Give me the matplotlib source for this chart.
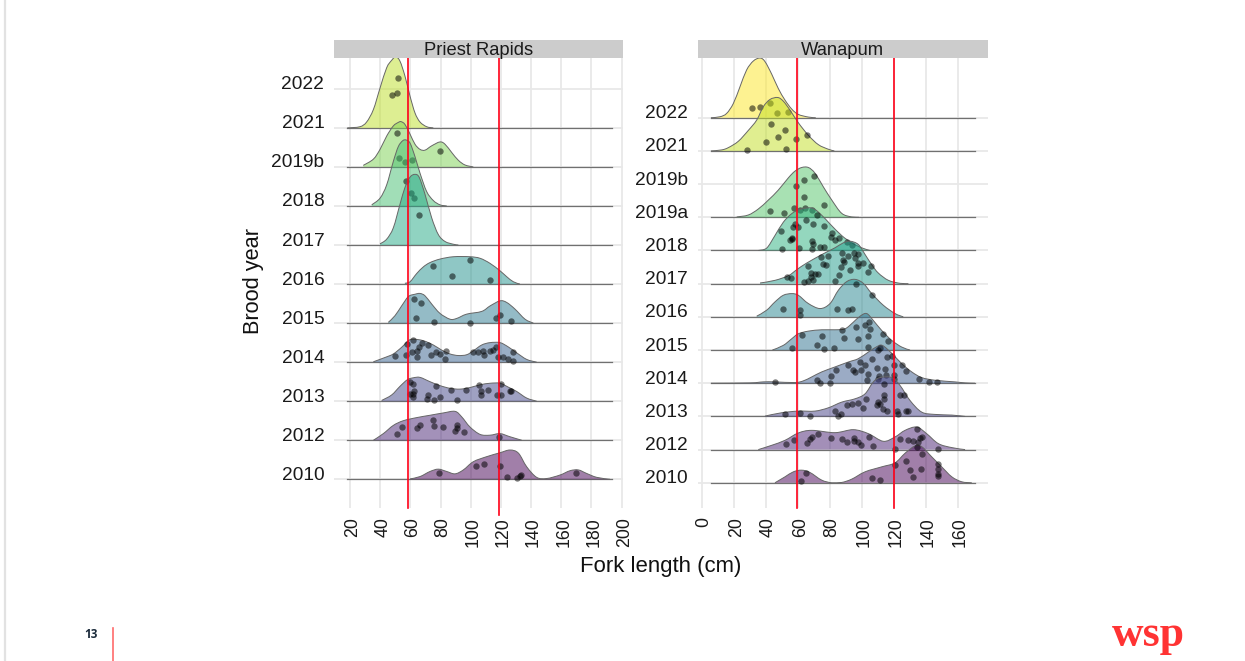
# ridgeline plots of fork length by brood year, Priest Rapids and Wanapum

import matplotlib
matplotlib.use("Agg")
import matplotlib.pyplot as plt
from matplotlib.lines import Line2D
from matplotlib.patches import PathPatch
from matplotlib.path import Path
from matplotlib.transforms import ScaledTranslation

plt.rcParams["font.family"] = ["Liberation Sans", "DejaVu Sans"]

W, H = 1245, 661

# Priest Rapids: density outline (cm, height in rows) and jittered fish
pr_labels = ["2010", "2012", "2013", "2014", "2015", "2016", "2017", "2018", "2019b", "2021", "2022"]
pr_ticks = [20, 40, 60, 80, 100, 120, 140, 160, 180, 200]
pr_range = [18.2, 193.4]

pr21_x = [18.2, 26.6, 31, 35.5, 39.9, 44.3, 47.6, 50.3, 53.1, 56.4, 59.8, 63.1, 66.4, 70.8, 75.2]
pr21_h = [0, .03, .15, .47, 1.02, 1.54, 1.73, 1.82, 1.71, 1.33, .81, .38, .15, .03, 0]
pr21_px = [51.8, 47.6, 51.4]
pr21_ph = [1.28, .83, .89]

pr19_x = [28.8, 35.5, 39.9, 44.3, 48.7, 52, 53.8, 56.4, 59.8, 63.1, 66.4, 69.7, 74.1, 79.6, 83, 87.4, 91.8, 96.2, 101.7]
pr19_h = [.04, .2, .45, .79, 1.05, 1.14, 1.16, 1.09, .84, .58, .45, .43, .54, .64, .58, .37, .17, .05, 0]
pr19_px = [50.9, 79.9, 52.5, 56.4, 60.9]
pr19_ph = [.86, .40, .22, .13, .19]

pr18_x = [34.4, 39.9, 44.3, 48.7, 52, 54.9, 57.1, 59.8, 63.1, 66.4, 70.8, 75.2, 79.6, 84.1]
pr18_h = [.03, .2, .54, 1.14, 1.52, 1.67, 1.69, 1.61, 1.26, .84, .37, .14, .03, 0]
pr18_px = [57.1, 60.4, 62.4]
pr18_ph = [.64, .32, .20]

pr17_x = [39.9, 44.3, 48.7, 53.1, 56.4, 59.8, 63.1, 65.9, 69.7, 74.1, 78.5, 83, 88.5, 91.8]
pr17_h = [.03, .15, .44, 1.04, 1.47, 1.74, 1.81, 1.73, 1.3, .7, .27, .09, .02, 0]
pr17_px = [65.5]
pr17_ph = [.76]

pr16_x = [56.4, 59.8, 64.2, 68.6, 73, 79.6, 88.5, 99.5, 106.2, 112.8, 119.4, 123.8, 128.2, 132.6]
pr16_h = [.02, .06, .27, .44, .55, .64, .7, .7, .66, .53, .34, .19, .06, 0]
pr16_px = [74.8, 99.7, 87.6, 112.6]
pr16_ph = [.47, .62, .20, .10]

pr15_x = [45.4, 49.8, 54.2, 58.7, 63.1, 66.4, 69.7, 74.1, 79.6, 86.3, 90.7, 97.3, 107.3, 112.8, 119.4, 123.8, 129.3, 136, 141.5]
pr15_h = [.02, .19, .44, .68, .74, .76, .70, .49, .25, .10, .12, .23, .30, .44, .57, .53, .36, .10, 0]
pr15_px = [62.4, 66.8, 63.7, 75.9, 99.3, 116.8, 119.6, 126.7]
pr15_ph = [.62, .51, .14, .03, 0, .12, .21, .05]

pr14_x = [35.5, 43.2, 48.7, 54.2, 58.7, 62, 68.6, 75.2, 80.7, 86.3, 91.8, 97.3, 101.7, 107.3, 112.8, 119.4, 124.9, 130.4, 137.1, 143.7]
pr14_h = [.01, .12, .21, .38, .55, .59, .55, .44, .31, .21, .17, .19, .29, .44, .50, .50, .39, .24, .07, 0]
pr14_px = [49.8, 57.3, 57.6, 61.7, 60.9, 64.6, 64.6, 65.7, 67.9, 71.9, 73.7, 77, 79.6, 82.7, 83.4, 101.7, 105, 107.9, 108.8, 112.8, 115, 117, 118.3, 121.2, 124.9, 127.8, 127.8]
pr14_ph = [.15, .18, .47, .56, .26, .12, .28, .39, .48, .45, .18, .26, .21, .09, .29, .26, .25, .29, .18, .29, .32, .38, .12, .12, .07, .25, .02]

pr13_x = [41, 47.6, 53.1, 58, 62, 66.4, 73, 79.6, 86.3, 92.9, 99.5, 106.2, 112.8, 119.4, 124.9, 130.4, 137.1, 143.7]
pr13_h = [.02, .16, .38, .55, .60, .61, .50, .40, .33, .31, .35, .42, .46, .46, .36, .25, .08, 0]
pr13_px = [59.8, 62, 59.8, 62.4, 62, 61.5, 71.9, 71.2, 75.9, 79.6, 76.8, 86.7, 90.7, 96.9, 105.7, 106.8, 106.8, 111.7, 117.6, 120.3, 119.8, 126, 126.7]
pr13_ph = [.49, .44, .19, .27, .19, .10, .17, .06, .03, .11, .40, .29, .04, .28, .41, .25, .15, .28, .15, .15, .44, .26, .26]

pr12_x = [35.5, 42.1, 48.7, 55.3, 64.2, 73, 81.9, 89.6, 94, 99.5, 106.2, 112.8, 119.4, 126, 133.8]
pr12_h = [0, .17, .38, .50, .58, .64, .70, .74, .60, .34, .15, .13, .17, .09, 0]
pr12_px = [51.4, 54.7, 64.6, 66.4, 75.2, 75.9, 81.9, 90.7, 90.7, 89.6, 95.8, 118.7]
pr12_ph = [.15, .35, .32, .38, .53, .36, .34, .38, .32, .24, .21, .08]

pr10_x = [59.8, 66.4, 73, 78.5, 84.1, 89.6, 95.1, 101.7, 110.6, 119.4, 126, 131.6, 137.1, 143.7, 150.3, 159.2, 165.8, 171.3, 176.8, 183.5, 192.3]
pr10_h = [.01, .07, .20, .26, .20, .14, .24, .45, .58, .68, .75, .67, .32, .05, .02, .11, .22, .24, .15, .05, 0]
pr10_px = [79, 103.5, 109, 119.6, 123.8, 130.9, 132.6, 133.1, 169.8]
pr10_ph = [.17, .33, .38, .33, .06, .04, .08, .11, .16]

# Wanapum
wa_labels = ["2010", "2012", "2013", "2014", "2015", "2016", "2017", "2018", "2019a", "2019b", "2021", "2022"]
wa_ticks = [0, 20, 40, 60, 80, 100, 120, 140, 160]
wa_range = [5.8, 170.8]

wa22_x = [5.8, 11.5, 15.6, 19.8, 24, 28.1, 32.3, 36.5, 39.6, 43.8, 47.9, 52.1, 56.3, 60.4, 66.7, 71.3]
wa22_h = [0, .03, .13, .43, .94, 1.44, 1.71, 1.80, 1.69, 1.31, .88, .53, .26, .10, .02, 0]
wa22_px = [31.25, 36.5, 42.7, 46.9, 54.2]
wa22_ph = [.30, .31, .43, .13, .18]

wa21_x = [5.8, 12.5, 16.7, 22.9, 29.2, 34.4, 38.5, 42.7, 47.5, 51, 55.2, 60.4, 66.7, 72.9, 79.2, 82.9]
wa21_h = [0, .03, .10, .29, .62, .93, 1.33, 1.55, 1.61, 1.50, 1.23, .85, .47, .19, .05, 0]
wa21_px = [43.3, 52.1, 47.9, 40.2, 28.3, 52.9, 59, 66]
wa21_ph = [.81, .64, .43, .28, .02, .07, .36, .47]

wa19_x = [21.9, 29.2, 35.4, 41.7, 47.9, 54.2, 58.3, 62.5, 66.7, 70.8, 76, 81.3, 87.5, 93.8, 98.3]
wa19_h = [.01, .07, .25, .52, .82, 1.19, 1.39, 1.50, 1.50, 1.33, .92, .52, .12, .01, 0]
wa19_px = [70.4, 63.75, 59.2, 63.75, 76.5, 42.7, 51.7, 57.7, 61.5, 64.6, 68.75]
wa19_ph = [1.24, 1.12, .95, .60, .38, .19, .14, .29, .22, .27, .23]

wa18_x = [35.4, 40.6, 45.8, 51, 56.3, 61.5, 68.8, 74, 80.2, 87.5, 93.8, 100, 105.2]
wa18_h = [0, .07, .45, .85, 1.11, 1.24, 1.28, 1.11, .80, .45, .23, .08, 0]
wa18_px = [71.9, 65, 69.4, 76.7, 58.3, 57.3, 60.4, 49.6, 56.3, 55.2, 50.4, 61, 68.75, 69.8, 69.2, 74, 76.7, 81.25, 80.8, 83.3, 85.8, 90.6, 93.75, 56.7]
wa18_ph = [1.06, .93, .80, .74, .80, .72, .70, .59, .38, .33, .05, .08, .29, .20, .05, .10, .10, .53, .40, .33, .39, .25, .15, .35]

wa17_x = [36.5, 45.8, 54.2, 59.4, 65.6, 76, 83.3, 88.5, 92.7, 97.9, 102.1, 106.3, 110.4, 116.7, 124, 129.2]
wa17_h = [.02, .10, .24, .42, .62, .90, 1.08, 1.23, 1.28, 1.18, .88, .57, .32, .10, .01, 0]
wa17_px = [53.1, 55.8, 64, 66.7, 69.8, 72.9, 70.8, 68.1, 66.7, 68.1, 74.6, 79.2, 76, 77.5, 83.3, 85.8, 86.9, 89, 92.7, 87.5, 88.5, 95.4, 97.9, 97.9, 97.9, 101, 103.75, 105.6, 95.8, 91.7]
wa17_ph = [.2, .16, .04, .09, .12, .29, .30, .32, .52, .20, .81, .84, .60, .57, .07, .27, .50, .64, .42, .92, .72, .92, .62, .52, .88, .62, .34, .52, .78, .82]

wa16_x = [34.4, 40.6, 45.8, 51, 56.3, 60.4, 66.7, 74, 80.2, 85.4, 90.6, 95.8, 101, 106.3, 113.5, 120.8, 126]
wa16_h = [.02, .20, .45, .65, .70, .65, .40, .25, .40, .80, 1.06, 1.13, 1.01, .70, .35, .10, 0]
wa16_px = [50.8, 61.7, 61.7, 84.6, 91.7, 94.2, 96.25, 106.25]
wa16_ph = [.23, .20, .07, .24, .20, .24, .98, .67]

wa15_x = [44.2, 51, 56.3, 60.4, 66.7, 75, 83.3, 89.6, 94.8, 99, 103.1, 107.3, 112.5, 118.8, 125, 130.2]
wa15_h = [0, .14, .34, .49, .57, .61, .61, .64, .84, 1.02, 1.10, .89, .59, .29, .09, 0]
wa15_px = [56.7, 62.9, 75, 71.9, 76.7, 82.5, 87.7, 88.75, 97.5, 96.7, 102.1, 104.4, 105.4, 104.2, 104.2, 113.1, 116.7]
wa15_ph = [.06, .44, .41, .14, .04, .06, .59, .35, .34, .69, .74, .84, .64, .43, .08, .49, .27]

wa14_x = [5.8, 30.2, 38.5, 45.8, 58.3, 63.5, 68.8, 75, 83.3, 91.7, 97.9, 104.2, 109.4, 112.9, 118.8, 125, 131.3, 137.5, 145.8, 158.3, 164.6, 170.8]
wa14_h = [0, .01, .04, .04, .02, .07, .19, .34, .49, .64, .74, .94, 1.10, 1.14, .90, .59, .34, .17, .09, .04, .01, 0]
wa14_px = [45.8, 71.9, 74, 80.2, 80.8, 83.8, 91.7, 94.4, 95.8, 99.4, 103.1, 104.2, 106.25, 109.4, 110.8, 110.4, 111.5, 115.6, 118.75, 114.6, 115, 120.4, 120.4, 120.4, 125.4, 127.5, 136, 142.1, 147.3, 110.4, 99, 102.1]
wa14_ph = [.04, .09, .02, .01, .23, .41, .54, .41, .35, .39, .11, .29, .74, .47, .22, 1.0, 1.05, .79, .81, .44, .24, .54, .24, .14, .56, .37, .12, .04, .04, .14, .64, .54]

wa13_x = [39.6, 50, 60.4, 70.8, 79.2, 87.5, 95.8, 102.1, 107.3, 111.5, 118.8, 124, 130.2, 137.5, 145.8, 156.3, 164.6]
wa13_h = [.01, .11, .16, .16, .26, .43, .53, .68, 1.04, 1.17, 1.17, .93, .48, .13, .06, .04, 0]
wa13_px = [51.9, 61.7, 67.9, 83.5, 85.4, 86.9, 90.6, 93.75, 97.5, 100.6, 102.7, 109.4, 110.4, 114, 114.2, 114.2, 124, 126.5, 115.6, 121.9, 122.9, 127.5, 129.2, 111.5, 113.5]
wa13_ph = [.08, .09, .02, .17, .01, .08, .34, .36, .40, .24, .53, .33, .43, .66, .53, .98, .66, .66, .15, .15, .08, .15, .16, .38, .23]

wa12_x = [35.4, 43.8, 52.1, 60.4, 68.8, 83.3, 94.8, 104.2, 113.5, 120.8, 127.1, 134.4, 140.6, 147.9, 156.3, 164.6]
wa12_h = [0, .13, .28, .50, .58, .51, .60, .48, .25, .38, .58, .68, .48, .18, .06, 0]
wa12_px = [52.9, 57.7, 65.8, 67.7, 68.75, 72.5, 80.8, 87.9, 91, 95.2, 95.4, 97.9, 99.4, 104.6, 107, 121, 124, 129.2, 131.9, 135.4, 136.5, 134.4, 137.5, 147.5]
wa12_ph = [.18, .29, .20, .31, .38, .46, .35, .31, .24, .36, .26, .23, .15, .38, .10, .01, .33, .30, .26, .23, .36, .61, .38, .03]

wa10_x = [45.8, 52.1, 57.3, 62.5, 67.7, 75, 81.3, 87.5, 93.8, 102.1, 112.5, 120.8, 127.1, 133.3, 137.5, 143.8, 150, 156.3, 162.5, 168.8]
wa10_h = [0, .18, .33, .38, .31, .08, 0, .01, .11, .33, .48, .60, .89, 1.11, 1.09, .78, .48, .18, .03, 0]
wa10_px = [65, 61.9, 106.25, 111.7, 121, 127.5, 130.2, 137.1, 132.3, 134.4, 137.5, 147.9, 147.9, 147.9, 147.9]
wa10_ph = [.30, .06, .14, .08, .53, .66, .38, .41, .18, 1.07, .86, .58, .43, .26, .20]

# rows listed top to bottom so lower ridges draw over upper ones
pr_ridges = [
    (9, pr21_x, pr21_h, pr21_px, pr21_ph),
    (8, pr19_x, pr19_h, pr19_px, pr19_ph),
    (7, pr18_x, pr18_h, pr18_px, pr18_ph),
    (6, pr17_x, pr17_h, pr17_px, pr17_ph),
    (5, pr16_x, pr16_h, pr16_px, pr16_ph),
    (4, pr15_x, pr15_h, pr15_px, pr15_ph),
    (3, pr14_x, pr14_h, pr14_px, pr14_ph),
    (2, pr13_x, pr13_h, pr13_px, pr13_ph),
    (1, pr12_x, pr12_h, pr12_px, pr12_ph),
    (0, pr10_x, pr10_h, pr10_px, pr10_ph),
]
wa_ridges = [
    (11, wa22_x, wa22_h, wa22_px, wa22_ph),
    (10, wa21_x, wa21_h, wa21_px, wa21_ph),
    (8, wa19_x, wa19_h, wa19_px, wa19_ph),
    (7, wa18_x, wa18_h, wa18_px, wa18_ph),
    (6, wa17_x, wa17_h, wa17_px, wa17_ph),
    (5, wa16_x, wa16_h, wa16_px, wa16_ph),
    (4, wa15_x, wa15_h, wa15_px, wa15_ph),
    (3, wa14_x, wa14_h, wa14_px, wa14_ph),
    (2, wa13_x, wa13_h, wa13_px, wa13_ph),
    (1, wa12_x, wa12_h, wa12_px, wa12_ph),
    (0, wa10_x, wa10_h, wa10_px, wa10_ph),
]

fig = plt.figure(figsize=(W / 100, H / 100), dpi=100, facecolor="white")


def outline_path(x, y, base, closed):
    # bezier through the read points so the ridges do not look faceted
    verts = [(x[0], y[0])]
    codes = [Path.MOVETO]
    n = len(x)
    for i in range(n - 1):
        a, b = max(i - 1, 0), min(i + 2, n - 1)
        c1 = (x[i] + (x[i + 1] - x[a]) / 6, max(base, y[i] + (y[i + 1] - y[a]) / 6))
        c2 = (x[i + 1] - (x[b] - x[i]) / 6, max(base, y[i + 1] - (y[b] - y[i]) / 6))
        verts += [c1, c2, (x[i + 1], y[i + 1])]
        codes += [Path.CURVE4] * 3
    if closed:
        verts += [(x[-1], base), (x[0], base), (x[0], y[0])]
        codes += [Path.LINETO, Path.LINETO, Path.CLOSEPOLY]
    return Path(verts, codes)


def panel(x0, x1, xlim, ylim, labels, ticks, ridges, xrange_, title, red_x, red_bottom):
    ax = fig.add_axes([x0 / W, 1 - 508 / H, (x1 - x0) / W, 450 / H])
    ax.set_xlim(xlim)
    ax.set_ylim(ylim)
    for s in ax.spines.values():
        s.set_visible(False)
    ax.set_axisbelow(True)
    ax.grid(True, color="#e8e8e8", lw=1.3)
    ax.set_xticks(ticks)
    ax.set_yticks(range(len(labels)))
    ax.set_yticklabels(labels, va="bottom", fontsize=13.8, color="#1a1a1a")
    ax.tick_params(axis="y", length=0, pad=7)
    ax.tick_params(axis="x", length=0, pad=6.5, labelsize=12.8, labelrotation=90, labelcolor="#1a1a1a")

    # labels sit a little above their gridline, rotated ones a little right of theirs
    for lab in ax.get_yticklabels():
        lab.set_transform(lab.get_transform() + ScaledTranslation(0, -4.5 / 100, fig.dpi_scale_trans))
    for lab in ax.get_xticklabels():
        lab.set_transform(lab.get_transform() + ScaledTranslation(2.5 / 100, 0, fig.dpi_scale_trans))

    top = len(labels) - 1
    for row, x, h, px, ph in ridges:
        color = plt.cm.viridis(row / top)
        z = 2 + (top - row) * 0.1
        y = [row + v for v in h]
        ax.plot(xrange_, [row, row], color="#707070", lw=0.9, zorder=z)
        ax.add_patch(PathPatch(outline_path(x, y, row, True), facecolor=color, alpha=0.5, lw=0, zorder=z))
        ax.add_patch(PathPatch(outline_path(x, y, row, False), facecolor="none", edgecolor="#666666", lw=0.7, zorder=z))
        ax.scatter(px, [row + v for v in ph], s=21, color="black", alpha=0.52, lw=0, zorder=z + 0.05)

    # reference lines were placed by hand on the slide
    for rx, bottom in zip(red_x, red_bottom):
        ax.plot([rx, rx], [bottom, ylim[1]], color="#ff0018", lw=1.2, zorder=6, clip_on=False)

    strip = fig.add_axes([x0 / W, 1 - 58 / H, (x1 - x0) / W, 18 / H])
    strip.set_facecolor("#cccccc")
    strip.set_xticks([])
    strip.set_yticks([])
    for s in strip.spines.values():
        s.set_visible(False)
    strip.text(0.5, 0.42, title, ha="center", va="center", fontsize=13.2, color="#1a1a1a", transform=strip.transAxes)
    return ax


panel(334, 623, (9.4, 200.9), (-0.735, 10.79), pr_labels, pr_ticks, pr_ridges, pr_range,
      "Priest Rapids", [58.6, 118.9], [-0.735, -0.915])
panel(697.5, 987.7, (-2.6, 178.75), (-0.76, 12.8), wa_labels, wa_ticks, wa_ridges, wa_range,
      "Wanapum", [59.7, 120.3], [-0.76, -0.76])

fig.text(253 / W, 1 - 281 / H, "Brood year", rotation=90, ha="center", va="center", fontsize=15.7, color="#111111")
fig.text(661 / W, 1 - 566.5 / H, "Fork length (cm)", ha="center", va="center", fontsize=15.9, color="#111111")

# slide furniture
fig.add_artist(Line2D([5 / W, 5 / W], [0, 1], color="#e2e2e2", lw=1.6))
fig.add_artist(Line2D([113 / W, 113 / W], [0, 1 - 628 / H], color="#ff6b6b", lw=1.2))
fig.text(91 / W, 1 - 634 / H, "13", ha="center", va="center", fontsize=8.5, fontweight="bold",
         family=["Open Sans", "DejaVu Sans"], color="#1a2a3a")
fig.text(1148 / W, 1 - 646 / H, "wsp", ha="center", va="baseline", fontsize=31.5, fontweight="bold",
         family=["Liberation Serif", "DejaVu Serif"], color="#ff3333")

fig.savefig("out.png", dpi=100)
